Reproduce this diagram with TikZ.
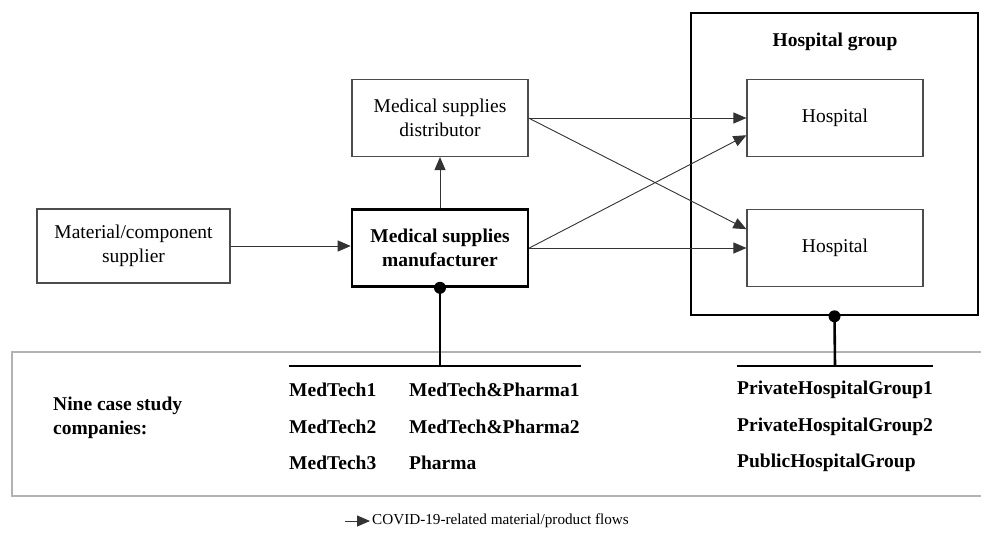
\documentclass[tikz,border=0pt]{standalone}
\usepackage{fontspec}
\setmainfont{Liberation Serif}
\usepackage{tikz}
\usetikzlibrary{arrows.meta}
\tikzset{unit/.style={draw=black!70, line width=1.1pt, minimum width=176pt,
  minimum height=77pt, align=center, font=\fontsize{19.5}{24}\selectfont}}
\tikzset{keyunit/.style={unit, draw=black, line width=2.6pt,
  font=\fontsize{19.5}{24}\selectfont\bfseries}}
\tikzset{flow/.style={-{Triangle[length=13pt,width=11pt]}, line width=0.9pt, black!80}}
\tikzset{link/.style={line width=2.6pt}}
\tikzset{case/.style={anchor=west, inner sep=0pt, font=\fontsize{19.5}{24}\selectfont\bfseries}}

\begin{document}
\begin{tikzpicture}[x=1pt, y=-1pt]
\useasboundingbox (0,0) rectangle (981,536);

\node[unit, minimum width=193pt, minimum height=74pt] (supplier) at (133.5,246) {Material/component\\supplier};
\node[unit] (distr) at (440,118) {Medical supplies\\distributor};
\node[keyunit] (manuf) at (440,248) {Medical supplies\\manufacturer};

\node[draw, line width=2.6pt, minimum width=287pt, minimum height=302pt] (group) at (834.5,164) {};
\node[font=\fontsize{19.5}{24}\selectfont\bfseries] (grouptitle) at (835,42) {Hospital group};
\node[unit] (hospa) at (835,118) {Hospital};
\node[unit] (hospb) at (835,248) {Hospital};

\draw[flow] (supplier.east) -- (supplier.east -| manuf.west);
\draw[flow] (manuf) -- (distr);
\draw[flow] (distr.east) -- (hospa.west);
\draw[flow] (distr.east) -- (hospb.168);
\draw[flow] (manuf.east) -- (hospa.191);
\draw[flow] (manuf.east) -- (hospb.west);

% case study companies
\draw[black!30, line width=1.3pt] (981,352) -| (12,496) -- (981,496);

\fill (manuf.south) circle (6pt);
\coordinate (mbar) at (440,366);
\draw[link] (manuf.south) -- (mbar);
\draw[link] (289,366) -- (581,366);

\fill (group.south) circle (6pt);
\coordinate (hbar) at (835,366);
\draw[link] (group.south) -- (hbar);
\draw[link] (737,366) -- (933,366);

\node[case, align=left] (nine) at (53,418) {Nine case study\\companies:};
\node[case] (mt1) at (289,390) {MedTech1};
\node[case] (mt2) at (289,427) {MedTech2};
\node[case] (mt3) at (289,463) {MedTech3};
\node[case] (mp1) at (409,390) {MedTech\&Pharma1};
\node[case] (mp2) at (409,427) {MedTech\&Pharma2};
\node[case] (ph) at (409,463) {Pharma};
\node[case] (phg1) at (737,390) {PrivateHospitalGroup1};
\node[case] (phg2) at (737,427) {PrivateHospitalGroup2};
\node[case] (pubhg) at (737,463) {PublicHospitalGroup};

% legend
\coordinate (legstart) at (345,521);
\node[anchor=west, inner sep=2pt, font=\fontsize{15.2}{18}\selectfont] (legend) at (370,521) {COVID-19-related material/product flows};
\draw[flow] (legstart) -- (legend.west);

\end{tikzpicture}
\end{document}
